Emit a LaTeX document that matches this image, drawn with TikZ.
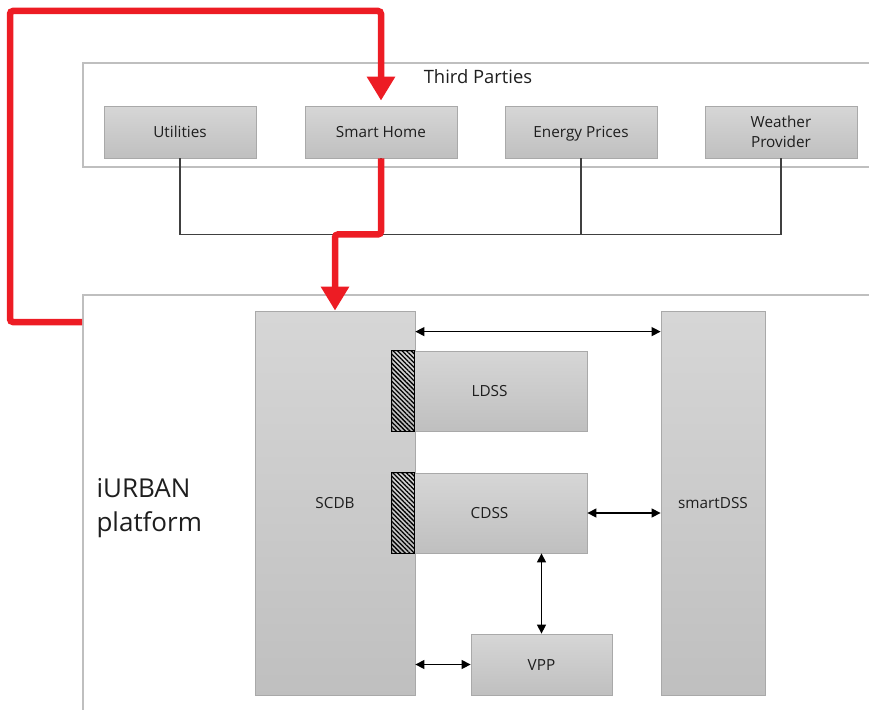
\documentclass[tikz,border=0pt]{standalone}
\usepackage{fontspec}
\setmainfont{Open Sans}
\usetikzlibrary{arrows.meta,patterns.meta,calc}
\definecolor{redline}{HTML}{ED1C24}
\definecolor{frame}{HTML}{BFBFBF}
\definecolor{boxedge}{HTML}{A9A9A9}
\definecolor{txt}{HTML}{1E1E1E}
\tikzset{
  graybox/.style={draw=boxedge, line width=0.8pt, top color=black!16, bottom color=black!25,
    inner sep=0pt, text=txt, font=\fontsize{15.3}{19.5}\selectfont, align=center},
  oneline/.style={text height=11pt, text depth=0pt},
  framebox/.style={draw=frame, line width=1.6pt, inner sep=0pt},
  bus/.style={draw=black!75, line width=1.1pt},
  biarrow/.style={black, line width=1.3pt, {Triangle[width=9pt,length=9pt]}-{Triangle[width=9pt,length=9pt]}},
  redarrow/.style={redline, line width=6.5pt, rounded corners=3pt, -{Triangle[width=27pt,length=24pt]}},
  hatch/.style={draw=black, line width=0.8pt, pattern={Lines[angle=-45, distance=3.2pt, line width=1.3pt]}}
}
\begin{document}
\begin{tikzpicture}[x=1pt, y=-1pt]
\useasboundingbox (0,0) rectangle (869,709);
\clip (0,0) rectangle (869,709);
% frames
\node[framebox, minimum width=800pt, minimum height=104pt, anchor=north west] (tp) at (82,62) {};
\node[text=txt, font=\fontsize{18.4}{20}\selectfont] (tplabel) at (478,77) {Third Parties};
\node[framebox, minimum width=800pt, minimum height=440pt, anchor=north west] (plat) at (82,294) {};
\node[text=txt, font=\fontsize{26}{34}\selectfont, align=left, anchor=west] (platlabel) at (93,508) {iURBAN\\platform};
% third parties boxes
\node[graybox, oneline, minimum width=152pt, minimum height=52pt] (util) at (180,132) {Utilities};
\node[graybox, oneline, minimum width=152pt, minimum height=52pt] (home) at (381,132) {Smart Home};
\node[graybox, oneline, minimum width=152pt, minimum height=52pt] (energy) at (581,132) {Energy Prices};
\node[graybox, minimum width=152pt, minimum height=52pt] (weather) at (781,132) {Weather\\Provider};
% bus
\draw[bus] (util.south) -- ++(0,76) -| (weather.south);
\draw[bus] (energy.south) -- ++(0,76);
\draw[bus] (home.south) -- ++(0,76);
% platform boxes
\node[graybox, oneline, minimum width=160pt, minimum height=384pt] (scdb) at (335,503) {SCDB};
\node[graybox, oneline, minimum width=104pt, minimum height=384pt] (sdss) at (713,503) {smartDSS};
\node[graybox, oneline, minimum width=195pt, minimum height=80pt] (ldss) at (489.5,391) {LDSS};
\node[graybox, oneline, minimum width=195pt, minimum height=80pt] (cdss) at (489.5,513) {CDSS};
\node[graybox, oneline, minimum width=141pt, minimum height=61pt] (vpp) at (541.5,664.5) {VPP};
% hatched interfaces
\path[hatch] (ldss.north west) rectangle ([xshift=23pt]ldss.south west);
\path[hatch] (cdss.north west) rectangle ([xshift=23pt]cdss.south west);
% black arrows
\draw[biarrow] ([yshift=-21pt]scdb.north east) -- ([yshift=-21pt]sdss.north west);
\draw[biarrow] (cdss.east) -- (cdss.east -| sdss.west);
\draw[biarrow] (vpp.north) -- (vpp.north |- cdss.south);
\draw[biarrow] (vpp.west) -- (vpp.west -| scdb.east);
% red paths
\coordinate (rstart) at (82,322);
\draw[redarrow, shorten >=5pt] (rstart) -- (10,322) -- (10,11) -| (home.north);
\draw[redarrow] (home.south) -- ++(0,76) -| (scdb.north);
\end{tikzpicture}
\end{document}
